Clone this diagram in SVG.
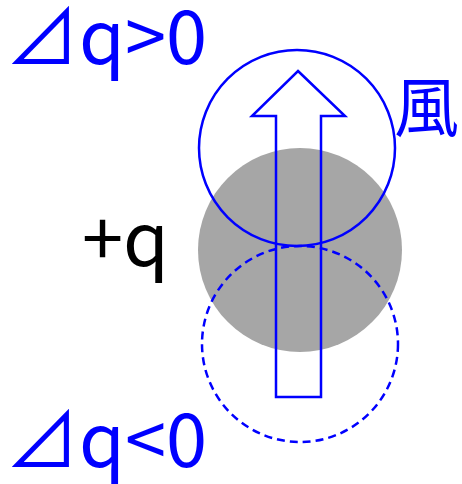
<svg xmlns="http://www.w3.org/2000/svg" width="462" height="484" viewBox="0 0 462 484">
<style>
.t{font-family:"Noto Sans CJK JP","Noto Sans",sans-serif;}
.b{fill:#0000ff;}
.ln{fill:none;stroke:#0000ff;stroke-width:2.5;}
</style>
<rect width="462" height="484" fill="#fff"/>
<g id="charge">
<circle cx="300" cy="250" r="102" fill="#a6a6a6"/>
</g>
<g id="upper">
<circle class="ln" cx="297" cy="148" r="98"/>
</g>
<g id="lower">
<circle class="ln" cx="300" cy="344" r="98" stroke-dasharray="8,5"/>
</g>
<g id="wind">
<polygon class="ln" fill="none" points="298,71 345,116 321,116 321,397 276,397 276,116 252,116"/>
</g>
<g id="labels">
<text class="t b" x="5" y="64" font-size="74">⊿q&gt;0</text>
<text class="t b" x="5" y="467" font-size="74">⊿q&lt;0</text>
<text class="t" x="82" y="266" font-size="74" fill="#000">+q</text>
<text class="t b" x="394" y="131" font-size="65">風</text>
</g>
</svg>
